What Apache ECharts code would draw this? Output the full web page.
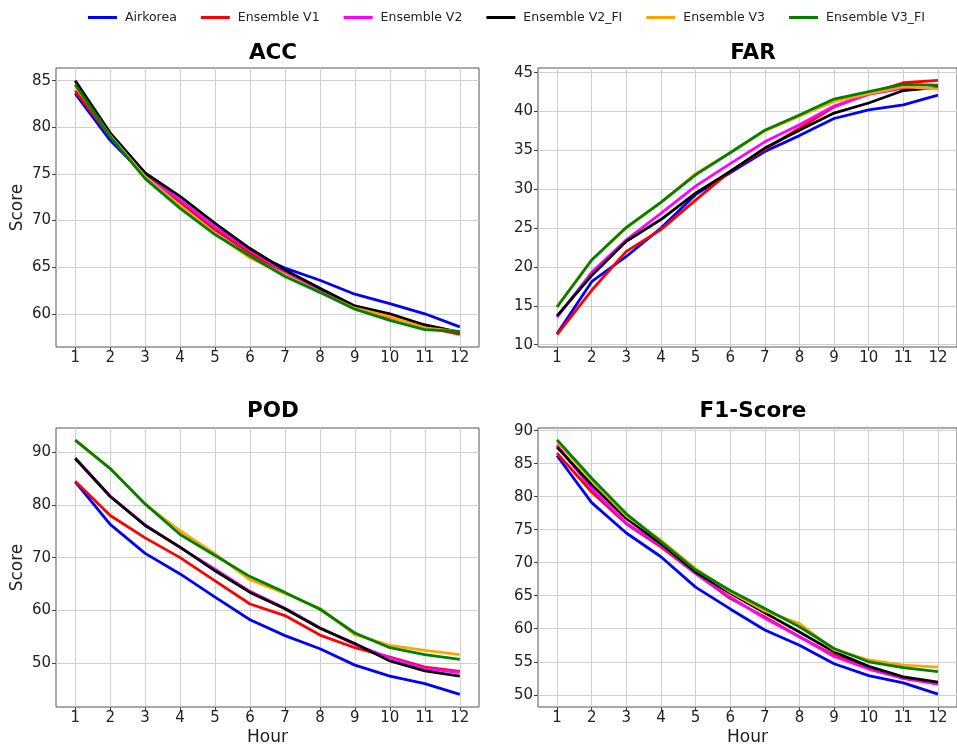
<!DOCTYPE html>
<html>
<head>
<meta charset="utf-8">
<title>Ensemble forecast scores by lead hour</title>
<script src="https://cdn.jsdelivr.net/npm/echarts@6/dist/echarts.min.js"></script>
<style>
  html, body { margin: 0; padding: 0; background: #ffffff; }
  #chart { width: 957px; height: 748px; }
</style>
</head>
<body>
<div id="chart"></div>
<script>
// Forecast lead time (hours)
const hours = [1, 2, 3, 4, 5, 6, 7, 8, 9, 10, 11, 12];

const seriesNames = ['Airkorea', 'Ensemble V1', 'Ensemble V2', 'Ensemble V2_FI', 'Ensemble V3', 'Ensemble V3_FI'];

// ACC
const accAirkorea = [83.6, 78.6, 74.8, 72.0, 69.1, 66.6, 64.9, 63.6, 62.1, 61.1, 60.0, 58.6];
const accV1       = [83.9, 79.0, 74.9, 72.0, 69.0, 66.5, 64.4, 62.6, 60.7, 59.9, 58.6, 57.8];
const accV2       = [85.0, 79.2, 74.9, 72.2, 69.3, 66.8, 64.5, 62.5, 60.6, 59.6, 58.8, 58.0];
const accV2FI     = [85.0, 79.4, 75.1, 72.6, 69.7, 67.0, 64.7, 62.75, 60.85, 60.0, 58.8, 58.0];
const accV3       = [84.5, 79.1, 74.7, 71.6, 68.6, 66.0, 64.2, 62.3, 60.6, 59.7, 58.5, 58.1];
const accV3FI     = [84.6, 79.0, 74.5, 71.3, 68.5, 66.2, 64.0, 62.3, 60.5, 59.3, 58.3, 58.1];

// FAR
const farAirkorea = [11.4, 18.1, 21.35, 25.0, 29.3, 32.1, 34.85, 36.9, 39.1, 40.2, 40.85, 42.1];
const farV1       = [11.3, 17.0, 22.0, 24.8, 28.6, 32.3, 35.15, 37.85, 40.6, 42.3, 43.7, 44.0];
const farV2       = [13.55, 19.3, 23.5, 26.9, 30.4, 33.3, 36.1, 38.3, 40.7, 42.2, 43.0, 43.0];
const farV2FI     = [13.7, 18.9, 23.3, 26.1, 29.5, 32.3, 35.3, 37.6, 39.8, 41.1, 42.7, 43.1];
const farV3       = [14.9, 20.9, 25.0, 28.3, 32.0, 34.7, 37.5, 39.4, 41.3, 42.3, 43.2, 42.9];
const farV3FI     = [14.85, 20.9, 25.1, 28.3, 31.85, 34.7, 37.6, 39.55, 41.6, 42.55, 43.5, 43.4];

// POD
const podAirkorea = [84.4, 76.3, 70.8, 66.9, 62.5, 58.2, 55.2, 52.7, 49.6, 47.5, 46.1, 44.05];
const podV1       = [84.5, 78.0, 73.75, 70.0, 65.6, 61.2, 59.0, 55.3, 52.9, 51.1, 49.2, 48.4];
const podV2       = [88.9, 81.7, 76.2, 71.9, 67.8, 63.6, 60.4, 56.7, 53.5, 51.0, 49.0, 48.2];
const podV2FI     = [88.8, 81.6, 76.1, 72.0, 67.5, 63.4, 60.3, 56.6, 53.7, 50.4, 48.5, 47.5];
const podV3       = [92.3, 86.9, 80.1, 75.1, 70.7, 65.8, 63.2, 60.4, 55.4, 53.35, 52.4, 51.6];
const podV3FI     = [92.3, 86.9, 80.2, 74.4, 70.4, 66.4, 63.4, 60.2, 55.7, 52.9, 51.6, 50.7];

// F1-Score
const f1Airkorea = [86.2, 79.1, 74.5, 70.9, 66.3, 63.0, 59.8, 57.5, 54.7, 52.9, 51.8, 50.1];
const f1V1       = [86.6, 80.7, 75.9, 72.4, 68.4, 64.6, 61.8, 58.8, 56.0, 54.0, 52.5, 51.7];
const f1V2       = [87.8, 81.2, 76.0, 72.6, 68.4, 64.8, 61.6, 58.8, 55.8, 53.9, 52.5, 51.6];
const f1V2FI     = [87.5, 81.8, 76.7, 72.9, 68.6, 65.4, 62.4, 59.5, 56.5, 54.3, 52.7, 51.9];
const f1V3       = [88.3, 82.5, 77.1, 73.4, 69.1, 65.6, 62.7, 60.8, 56.8, 55.3, 54.5, 54.2];
const f1V3FI     = [88.6, 82.8, 77.4, 73.2, 68.9, 65.8, 63.05, 60.3, 57.0, 55.0, 54.1, 53.5];

// Tick labels of each panel's y axis
const accTicks = [60, 65, 70, 75, 80, 85];
const farTicks = [10, 15, 20, 25, 30, 35, 40, 45];
const podTicks = [50, 60, 70, 80, 90];
const f1Ticks  = [50, 55, 60, 65, 70, 75, 80, 85, 90];

const lineColors = ['#0000ff', '#ff0000', '#ff00ff', '#000000', '#ffa500', '#008000'];
const FONT = 'DejaVu Sans';

const panels = [
  { title: 'ACC',      values: [accAirkorea, accV1, accV2, accV2FI, accV3, accV3FI], ticks: accTicks,
    yMin: 56.44, yMax: 86.36, left: 56,  top: 68,  titleX: 268, titleTop: 37,  yName: true,  xName: false },
  { title: 'FAR',      values: [farAirkorea, farV1, farV2, farV2FI, farV3, farV3FI], ticks: farTicks,
    yMin: 9.7,   yMax: 45.6,  left: 538, top: 68,  titleX: 748, titleTop: 37,  yName: false, xName: false },
  { title: 'POD',      values: [podAirkorea, podV1, podV2, podV2FI, podV3, podV3FI], ticks: podTicks,
    yMin: 41.65, yMax: 94.6,  left: 56,  top: 428, titleX: 268, titleTop: 395, yName: true,  xName: true },
  { title: 'F1-Score', values: [f1Airkorea, f1V1, f1V2, f1V2FI, f1V3, f1V3FI], ticks: f1Ticks,
    yMin: 48.15, yMax: 90.4,  left: 538, top: 428, titleX: 748, titleTop: 395, yName: false, xName: true }
];

const GRID_W = 423, GRID_H = 279;

const option = {
  animation: false,
  backgroundColor: '#ffffff',
  textStyle: { fontFamily: FONT },
  legend: {
    data: seriesNames,
    left: 83, top: 6,
    icon: 'rect', itemWidth: 29, itemHeight: 3, itemGap: 24,
    textStyle: { fontFamily: FONT, fontSize: 12.5, color: '#222222', padding: [0, 0, 0, 3] },
    selectedMode: false
  },
  title: [], grid: [], xAxis: [], yAxis: [], series: []
};

panels.forEach((p, i) => {
  option.title.push({
    text: p.title, left: p.titleX, top: p.titleTop, textAlign: 'center',
    textStyle: { fontFamily: FONT, fontSize: 21.5, fontWeight: 'bold', color: '#000000' }
  });
  option.grid.push({
    left: p.left, top: p.top, width: GRID_W, height: GRID_H,
    show: true, borderColor: '#555555', borderWidth: 1, backgroundColor: 'transparent'
  });
  option.xAxis.push({
    type: 'value', gridIndex: i, min: 0.45, max: 12.55,
    name: p.xName ? 'Hour' : '', nameLocation: 'middle', nameGap: 22,
    nameTextStyle: { fontFamily: FONT, fontSize: 17, color: '#222222' },
    axisLine: { show: false },
    axisTick: { show: true, length: 4, customValues: hours, lineStyle: { color: '#444444' } },
    axisLabel: { customValues: hours, margin: 4, fontFamily: FONT, fontSize: 15, color: '#222222' },
    splitLine: { show: true, lineStyle: { color: '#cfcfcf', width: 1 } }
  });
  option.yAxis.push({
    type: 'value', gridIndex: i, min: p.yMin, max: p.yMax,
    name: p.yName ? 'Score' : '', nameLocation: 'middle', nameGap: 30,
    nameTextStyle: { fontFamily: FONT, fontSize: 17, color: '#222222' },
    axisLine: { show: false },
    axisTick: { show: true, length: 4, customValues: p.ticks, lineStyle: { color: '#444444' } },
    axisLabel: { customValues: p.ticks, margin: 5, fontFamily: FONT, fontSize: 15, color: '#222222' },
    splitLine: { show: true, lineStyle: { color: '#cfcfcf', width: 1 } }
  });
  p.values.forEach((vals, k) => {
    option.series.push({
      name: seriesNames[k], type: 'line', xAxisIndex: i, yAxisIndex: i,
      data: hours.map((h, j) => [h, vals[j]]),
      symbol: 'none', silent: true, clip: true,
      color: lineColors[k],
      lineStyle: { color: lineColors[k], width: 2.8 },
      z: 2 + k
    });
  });
});

const chart = echarts.init(document.getElementById('chart'), null, { renderer: 'canvas' });
chart.setOption(option);
</script>
</body>
</html>
